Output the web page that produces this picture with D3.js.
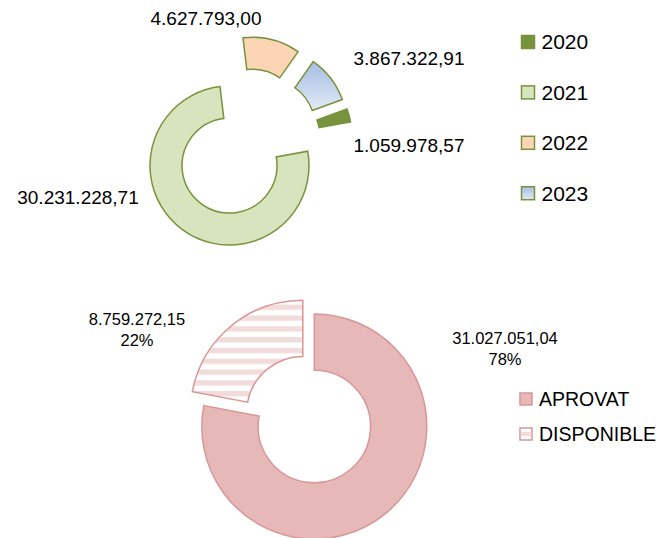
<!DOCTYPE html>
<html>
<head>
<meta charset="utf-8">
<script src="https://cdn.jsdelivr.net/npm/d3@7"></script>
<style>
  html, body { margin: 0; padding: 0; background: #fff; }
  svg { display: block; font-family: "Liberation Sans", Arial, sans-serif; }
</style>
</head>
<body>
<svg id="chart" width="657" height="538"></svg>
<script>
// ---- data ----
const yearCategories = ["2020", "2021", "2022", "2023"];
const yearValues = [1059978.57, 30231228.71, 4627793.00, 3867322.91];
const budgetCategories = ["APROVAT", "DISPONIBLE"];
const budgetValues = [31027051.04, 8759272.15];

// ---- layout / style ----
const svg = d3.select("#chart");
const loc = d3.formatLocale({ decimal: ",", thousands: ".", grouping: [3], currency: ["", "€"] });
const fmt = loc.format(",.2f");
const deg = Math.PI / 180;

const defs = svg.append("defs");
const grad = defs.append("linearGradient").attr("id", "blueGrad")
  .attr("x1", 0).attr("y1", 0).attr("x2", 0).attr("y2", 1);
grad.append("stop").attr("offset", "0%").attr("stop-color", "#A6BDE3");
grad.append("stop").attr("offset", "100%").attr("stop-color", "#E2EAF6");
const stripe = defs.append("pattern").attr("id", "stripes")
  .attr("patternUnits", "userSpaceOnUse").attr("width", 10).attr("height", 10.8);
stripe.append("rect").attr("width", 10).attr("height", 10.8).attr("fill", "#fff");
stripe.append("rect").attr("y", 0).attr("width", 10).attr("height", 5.4).attr("fill", "#F2DCDB");

const topColors = d3.scaleOrdinal().domain(yearCategories)
  .range(["#77933C", "#D7E4BD", "#FCD5B5", "url(#blueGrad)"]);
const botColors = d3.scaleOrdinal().domain(budgetCategories)
  .range(["#E6B9B8", "url(#stripes)"]);

// ---- top donut ----
const topCfg = { cx: 245.8, cy: 143.4, R: 79.5, r: 47.5, explode: 27.5, start: 70 * deg };
const topPie = d3.pie().sort(null).startAngle(topCfg.start).endAngle(topCfg.start + 2 * Math.PI)
  .value(d => d.v)(yearCategories.map((c, i) => ({ c, v: yearValues[i] })));
const topArc = d3.arc().innerRadius(topCfg.r).outerRadius(topCfg.R);
const gTop = svg.append("g").attr("transform", `translate(${topCfg.cx},${topCfg.cy})`);
gTop.selectAll("path").data(topPie).join("path")
  .attr("d", topArc)
  .attr("transform", d => {
    const m = (d.startAngle + d.endAngle) / 2;
    return `translate(${topCfg.explode * Math.sin(m)},${-topCfg.explode * Math.cos(m)})`;
  })
  .attr("fill", d => topColors(d.data.c))
  .attr("stroke", "#77933C").attr("stroke-width", 1.5).attr("stroke-linejoin", "miter");

const topLabelPos = { "2020": [409, 151.7], "2021": [78, 204], "2022": [206, 25], "2023": [409, 65] };
svg.append("g").selectAll("text").data(topPie).join("text")
  .attr("x", d => topLabelPos[d.data.c][0]).attr("y", d => topLabelPos[d.data.c][1])
  .attr("text-anchor", "middle").attr("font-size", 19).attr("fill", "#000")
  .text(d => fmt(d.data.v));

// top legend
const tl = svg.append("g").attr("transform", "translate(521.5,42)");
const tlRow = tl.selectAll("g").data(yearCategories).join("g")
  .attr("transform", (d, i) => `translate(0,${i * 50.4})`);
tlRow.append("rect").attr("x", 0).attr("y", -6.5).attr("width", 13).attr("height", 13)
  .attr("fill", d => topColors(d)).attr("stroke", "#77933C").attr("stroke-width", 1.5);
tlRow.append("text").attr("x", 20).attr("y", 7.3).attr("font-size", 21).attr("fill", "#000").text(d => d);

// ---- bottom donut ----
const botCfg = { cx: 314.3, cy: 426.5, R: 112.5, r: 56.2, explode: [0, 18] };
const botPie = d3.pie().sort(null).value(d => d.v)(budgetCategories.map((c, i) => ({ c, v: budgetValues[i] })));
const botArc = d3.arc().innerRadius(botCfg.r).outerRadius(botCfg.R);
const gBot = svg.append("g").attr("transform", `translate(${botCfg.cx},${botCfg.cy})`);
gBot.selectAll("path").data(botPie).join("path")
  .attr("d", botArc)
  .attr("transform", (d, i) => {
    const m = (d.startAngle + d.endAngle) / 2;
    return `translate(${botCfg.explode[i] * Math.sin(m)},${-botCfg.explode[i] * Math.cos(m)})`;
  })
  .attr("fill", d => botColors(d.data.c))
  .attr("stroke", "#D99694").attr("stroke-width", 1.5);

const botTotal = d3.sum(budgetValues);
const botLabelPos = { "APROVAT": [505, 343.5], "DISPONIBLE": [137, 324.5] };
const bl = svg.append("g").selectAll("text").data(botPie).join("text")
  .attr("text-anchor", "middle").attr("font-size", 16.5).attr("fill", "#000");
bl.append("tspan").attr("x", d => botLabelPos[d.data.c][0]).attr("y", d => botLabelPos[d.data.c][1])
  .text(d => fmt(d.data.v));
bl.append("tspan").attr("x", d => botLabelPos[d.data.c][0]).attr("dy", 21)
  .text(d => Math.round(d.data.v / botTotal * 100) + "%");

// bottom legend
const blg = svg.append("g").attr("transform", "translate(520,399)");
const blRow = blg.selectAll("g").data(budgetCategories).join("g")
  .attr("transform", (d, i) => `translate(0,${i * 35})`);
blRow.append("rect").attr("x", 0).attr("y", -6).attr("width", 12).attr("height", 12)
  .attr("fill", d => d === "APROVAT" ? "#E6B9B8" : "#fff").attr("stroke", "#D99694").attr("stroke-width", 1.5);
blRow.filter(d => d === "DISPONIBLE").append("rect")
  .attr("x", 0.75).attr("y", -2).attr("width", 10.5).attr("height", 4).attr("fill", "#F2DCDB");
blRow.append("text").attr("x", 19).attr("y", 6.6).attr("font-size", 19.5).attr("fill", "#000").text(d => d);
</script>
</body>
</html>
